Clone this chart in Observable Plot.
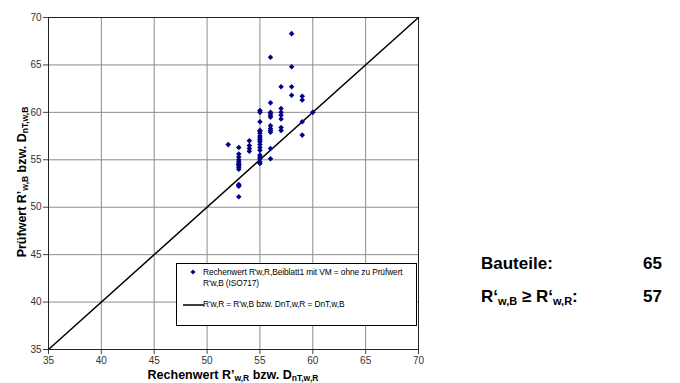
<!DOCTYPE html>
<html><head><meta charset="utf-8">
<script src="https://cdn.jsdelivr.net/npm/d3@7"></script>
<script src="https://cdn.jsdelivr.net/npm/@observablehq/plot@0.6"></script>
<style>
body{margin:0;background:#fff;font-family:"Liberation Sans",Arial,sans-serif;}
#wrap{position:relative;width:680px;height:383px;overflow:hidden;}
#wrap svg{position:absolute;left:0;top:0;}
.lab{position:absolute;font-weight:bold;font-size:12.5px;color:#000;white-space:nowrap;line-height:12px;}
.lab sub{font-size:8.5px;vertical-align:-2px;line-height:0;}
#ylab{left:22px;top:182px;transform:translate(-50%,-50%) rotate(-90deg);}
#xlab{left:233px;top:369px;transform:translateX(-50%);}
#legend{position:absolute;left:176px;top:263px;width:241px;height:63px;border:1px solid #000;background:#fff;font-size:8.4px;color:#000;box-sizing:border-box;}
#legend .t{position:absolute;line-height:11px;white-space:nowrap;letter-spacing:-0.1px;}
.stat{position:absolute;font-weight:bold;font-size:17px;color:#000;white-space:nowrap;}
.stat sub{font-size:11px;vertical-align:-3px;line-height:0;}
</style></head><body><div id="wrap"></div>
<script>
// Rechenwert R'w,R (x) and Prüfwert R'w,B (y), one entry per Bauteil
const rechenwert = [
  52,
  53,53,53,53,53,53,53,53,53,53,53,53,53,53,
  54,54,54,54,
  55,55,55,55,55,55,55,55,55,55,55,55,55,55,55,55,55,55,
  56,56,56,56,56,56,56,56,56,56,56,56,
  57,57,57,57,57,57,57,
  58,58,58,58,
  59,59,59,59,
  60
];
const pruefwert = [
  56.6,
  56.3,55.6,55.3,55.0,54.8,54.6,54.5,54.4,54.2,54.0,52.4,52.3,52.2,51.1,
  57.0,56.5,56.2,55.9,
  60.2,60.0,59.0,58.1,58.0,57.8,57.5,57.3,57.1,56.9,56.6,56.3,56.0,55.5,55.3,55.1,54.8,54.6,
  65.8,61.0,60.0,59.9,59.7,59.5,58.6,58.3,58.1,57.9,56.2,55.1,
  62.7,60.4,60.0,59.7,59.3,58.4,58.1,
  68.3,64.8,62.7,61.8,
  61.7,61.3,59.0,57.6,
  60.0
];
const axisTicks = [35,40,45,50,55,60,65,70];
const diagonal = [35,70];
const bauteile = 65;
const groesserGleich = 57;

const points = rechenwert.map((x,i)=>({x, y: pruefwert[i]}));

const chart = Plot.plot({
  width: 680, height: 383,
  marginLeft: 48, marginRight: 262, marginTop: 17, marginBottom: 34,
  style: {fontFamily: '"Liberation Sans", Arial, sans-serif', fontSize: "10px", color: "#333", background: "transparent"},
  x: {domain: [35,70], ticks: axisTicks, label: null},
  y: {domain: [35,70], ticks: axisTicks, label: null},
  marks: [
    Plot.gridX(axisTicks, {stroke: "#8c8c8c", strokeOpacity: 1, strokeWidth: 1}),
    Plot.gridY(axisTicks, {stroke: "#8c8c8c", strokeOpacity: 1, strokeWidth: 1}),
    Plot.axisX(axisTicks, {tickSize: 5, tickPadding: 2, stroke: "#444", fill: "#333"}),
    Plot.axisY(axisTicks, {tickSize: 5, tickPadding: 2, stroke: "#444", fill: "#333"}),
    Plot.line(diagonal, {x: d=>d, y: d=>d, stroke: "#000", strokeWidth: 1.5}),
    Plot.dot(points, {x: "x", y: "y", symbol: "diamond2", r: 2.5, fill: "#00008b", stroke: "none"}),
    Plot.frame({stroke: "#222", strokeWidth: 1})
  ]
});
const wrap = document.getElementById("wrap");
wrap.appendChild(chart);

wrap.insertAdjacentHTML("beforeend", `
<div id="ylab" class="lab">Prüfwert R’<sub>w,B</sub> bzw. D<sub>nT,w,B</sub></div>
<div id="xlab" class="lab">Rechenwert R’<sub>w,R</sub> bzw. D<sub>nT,w,R</sub></div>
<div id="legend">
  <svg width="20" height="12" style="position:absolute;left:8px;top:3px"><path d="M8,2.5 L10.5,5 L8,7.5 L5.5,5 Z" fill="#00008b"/></svg>
  <div class="t" style="left:26px;top:3px">Rechenwert R'w,R,Beiblatt1 mit VM = ohne zu Prüfwert<br>R'w,B (ISO717)</div>
  <svg width="22" height="6" style="position:absolute;left:6px;top:38px"><line x1="0" y1="3" x2="21" y2="3" stroke="#000" stroke-width="1.5"/></svg>
  <div class="t" style="left:26px;top:35px">R'w,R = R'w,B bzw. DnT,w,R = DnT,w,B</div>
</div>
<div class="stat" style="left:481px;top:254px">Bauteile:</div>
<div class="stat" style="left:600px;top:254px;width:62px;text-align:right">${bauteile}</div>
<div class="stat" style="left:481px;top:287px">R‘<sub>w,B</sub> ≥ R‘<sub>w,R</sub>:</div>
<div class="stat" style="left:600px;top:287px;width:62px;text-align:right">${groesserGleich}</div>
`);
</script></body></html>
